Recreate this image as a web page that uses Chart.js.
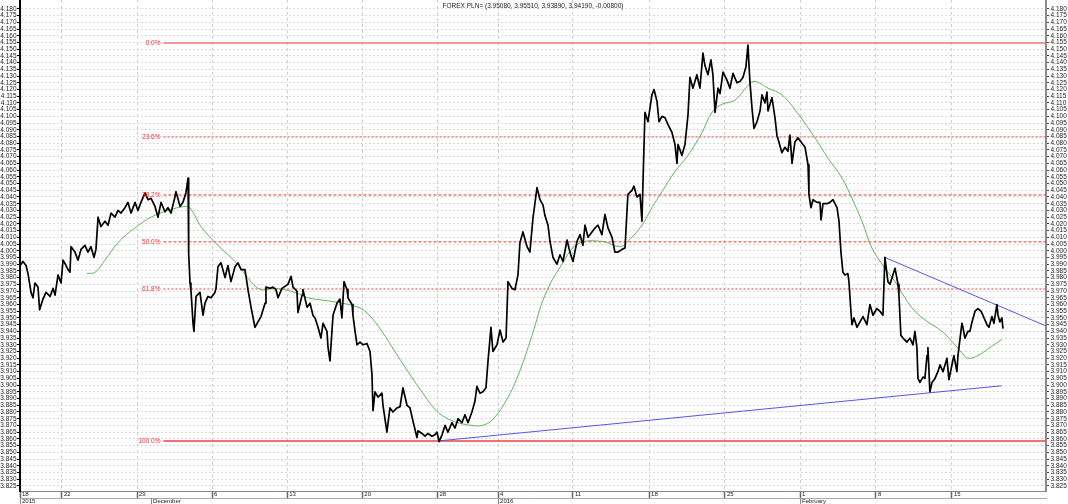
<!DOCTYPE html>
<html>
<head>
<meta charset="utf-8">
<style>
  html, body { margin: 0; padding: 0; background: #fff; }
  #wrap { width: 1068px; height: 504px; }
</style>
<script src="https://cdn.jsdelivr.net/npm/chart.js@4.4.1/dist/chart.umd.min.js"></script>
</head>
<body>
<div id="wrap"><canvas id="chart" width="1068" height="504"></canvas></div>
<script>
const titleText = 'FOREX PLN= (3.95080, 3.95510, 3.93890, 3.94190, -0.00800)';

// x = trading days since 18 Nov 2015, y = USD/PLN
const price = [
  [0, 3.989], [0.2, 3.992], [0.4, 3.989], [0.53, 3.983], [0.73, 3.969], [0.86, 3.965], [0.99, 3.976], [1.19, 3.973],
  [1.3, 3.956], [1.52, 3.964], [1.72, 3.969], [1.99, 3.966], [2.19, 3.972], [2.32, 3.967], [2.52, 3.982], [2.72, 3.976],
  [2.85, 3.993], [3.05, 3.989], [3.18, 3.986], [3.31, 3.984], [3.38, 4.003], [3.64, 3.999], [3.84, 3.993], [4.04, 4.001],
  [4.3, 4.004], [4.5, 3.999], [4.7, 4.003], [4.9, 3.995], [5.03, 4.001], [5.17, 4.025], [5.36, 4.018], [5.63, 4.022],
  [5.83, 4.019], [6.03, 4.028], [6.29, 4.025], [6.49, 4.03], [6.69, 4.028], [6.95, 4.032], [7.15, 4.036], [7.35, 4.028],
  [7.62, 4.036], [7.81, 4.03], [8.01, 4.036], [8.28, 4.043], [8.48, 4.038], [8.68, 4.039], [8.94, 4.033], [9.14, 4.025],
  [9.34, 4.036], [9.6, 4.029], [9.8, 4.032], [10.0, 4.028], [10.26, 4.04], [10.33, 4.044], [10.6, 4.033], [10.79, 4.036],
  [10.99, 4.043], [11.13, 4.054], [11.17, 3.998], [11.26, 3.976], [11.32, 3.971], [11.46, 3.946], [11.52, 3.94], [11.66, 3.966],
  [11.92, 3.969], [12.12, 3.952], [12.25, 3.961], [12.45, 3.966], [12.65, 3.965], [12.91, 3.969], [12.98, 3.972], [13.11, 3.988],
  [13.31, 3.991], [13.58, 3.98], [13.77, 3.989], [13.97, 3.977], [14.24, 3.988], [14.44, 3.991], [14.64, 3.986], [14.9, 3.986],
  [15.1, 3.971], [15.3, 3.958], [15.56, 3.943], [15.76, 3.947], [15.96, 3.951], [16.23, 3.961], [16.29, 3.973], [16.56, 3.972],
  [16.75, 3.973], [16.95, 3.971], [17.09, 3.965], [17.35, 3.972], [17.75, 3.975], [17.95, 3.981], [18.08, 3.973], [18.34, 3.97],
  [18.41, 3.954], [18.68, 3.967], [18.74, 3.971], [19.01, 3.958], [19.21, 3.961], [19.4, 3.952], [19.54, 3.95], [19.74, 3.943],
  [19.93, 3.935], [20.07, 3.946], [20.33, 3.94], [20.4, 3.928], [20.53, 3.918], [20.73, 3.952], [20.99, 3.961], [21.19, 3.964],
  [21.32, 3.95], [21.46, 3.977], [21.66, 3.971], [21.72, 3.965], [21.99, 3.96], [22.05, 3.952], [22.19, 3.94], [22.32, 3.93],
  [22.52, 3.932], [22.72, 3.93], [22.98, 3.931], [23.18, 3.925], [23.31, 3.908], [23.38, 3.881], [23.51, 3.895], [23.71, 3.891],
  [23.97, 3.894], [24.04, 3.885], [24.3, 3.865], [24.5, 3.883], [24.7, 3.88], [24.97, 3.883], [25.17, 3.884], [25.36, 3.898],
  [25.63, 3.885], [25.83, 3.883], [26.03, 3.873], [26.29, 3.861], [26.36, 3.866], [26.62, 3.864], [26.82, 3.862], [27.02, 3.864],
  [27.28, 3.862], [27.48, 3.863], [27.62, 3.865], [27.75, 3.858], [27.95, 3.863], [28.15, 3.87], [28.34, 3.865], [28.61, 3.872],
  [28.81, 3.868], [29.01, 3.875], [29.27, 3.872], [29.47, 3.878], [29.67, 3.872], [29.93, 3.88], [30.13, 3.888], [30.26, 3.899],
  [30.46, 3.894], [30.66, 3.895], [30.86, 3.898], [30.99, 3.917], [31.19, 3.943], [31.32, 3.925], [31.59, 3.93], [31.79, 3.941],
  [31.99, 3.932], [32.19, 3.935], [32.32, 3.977], [32.58, 3.972], [32.78, 3.971], [32.98, 3.982], [33.11, 4.006], [33.31, 4.014],
  [33.58, 4.003], [33.77, 3.999], [33.97, 4.024], [34.24, 4.047], [34.44, 4.038], [34.64, 4.034], [34.77, 4.026], [34.97, 4.019],
  [35.1, 4.007], [35.3, 3.995], [35.56, 3.99], [35.76, 3.997], [35.96, 3.992], [36.23, 4.008], [36.42, 3.999], [36.62, 3.992],
  [36.89, 4.007], [37.09, 4.012], [37.28, 4.004], [37.42, 4.019], [37.62, 4.01], [37.88, 4.014], [38.08, 4.017], [38.28, 4.019],
  [38.54, 4.012], [38.74, 4.027], [38.94, 4.017], [39.21, 4.01], [39.4, 3.999], [39.6, 3.999], [39.87, 4.001], [40.07, 4.002],
  [40.26, 4.042], [40.53, 4.045], [40.66, 4.048], [40.86, 4.04], [41.06, 4.042], [41.19, 4.022], [41.26, 4.051], [41.39, 4.103],
  [41.59, 4.096], [41.85, 4.116], [41.99, 4.12], [42.19, 4.111], [42.32, 4.096], [42.52, 4.1], [42.72, 4.099], [42.91, 4.094],
  [43.18, 4.088], [43.38, 4.079], [43.51, 4.065], [43.58, 4.079], [43.84, 4.071], [44.04, 4.079], [44.24, 4.101], [44.37, 4.129],
  [44.57, 4.121], [44.83, 4.131], [45.03, 4.121], [45.23, 4.147], [45.36, 4.138], [45.56, 4.131], [45.76, 4.142], [45.89, 4.131],
  [46.03, 4.103], [46.23, 4.121], [46.36, 4.117], [46.56, 4.133], [46.82, 4.127], [47.02, 4.121], [47.22, 4.132], [47.48, 4.125],
  [47.68, 4.126], [47.88, 4.129], [48.08, 4.137], [48.21, 4.153], [48.34, 4.126], [48.48, 4.106], [48.61, 4.091], [48.81, 4.096],
  [49.01, 4.104], [49.14, 4.116], [49.34, 4.11], [49.47, 4.118], [49.54, 4.104], [49.8, 4.114], [50.0, 4.099], [50.13, 4.086],
  [50.26, 4.081], [50.46, 4.073], [50.66, 4.077], [50.86, 4.074], [50.99, 4.086], [51.13, 4.065], [51.32, 4.081], [51.52, 4.084],
  [51.79, 4.08], [51.99, 4.077], [52.19, 4.064], [52.25, 4.042], [52.38, 4.032], [52.52, 4.038], [52.78, 4.036], [52.98, 4.036],
  [53.05, 4.023], [53.18, 4.035], [53.44, 4.035], [53.64, 4.036], [53.84, 4.038], [54.11, 4.032], [54.24, 4.022], [54.37, 3.999],
  [54.5, 3.984], [54.64, 3.982], [54.83, 3.983], [54.9, 3.977], [55.03, 3.955], [55.1, 3.945], [55.23, 3.95], [55.43, 3.943],
  [55.63, 3.947], [55.83, 3.951], [56.09, 3.945], [56.29, 3.96], [56.49, 3.952], [56.75, 3.957], [56.95, 3.955], [57.15, 3.952],
  [57.28, 3.995], [57.48, 3.977], [57.62, 3.975], [57.81, 3.982], [57.95, 3.987], [58.15, 3.975], [58.21, 3.967], [58.34, 3.937],
  [58.48, 3.935], [58.74, 3.932], [58.94, 3.935], [59.14, 3.93], [59.27, 3.94], [59.4, 3.928], [59.47, 3.905], [59.6, 3.902],
  [59.8, 3.906], [59.93, 3.905], [60.07, 3.922], [60.13, 3.928], [60.26, 3.895], [60.4, 3.902], [60.6, 3.905], [60.79, 3.91],
  [60.93, 3.915], [61.13, 3.91], [61.39, 3.92], [61.52, 3.904], [61.72, 3.915], [61.85, 3.922], [62.05, 3.91], [62.12, 3.922],
  [62.38, 3.946], [62.45, 3.943], [62.58, 3.935], [62.78, 3.94], [62.91, 3.94], [63.05, 3.947], [63.25, 3.955], [63.44, 3.957],
  [63.64, 3.955], [63.77, 3.952], [64.04, 3.945], [64.17, 3.943], [64.37, 3.951], [64.5, 3.946], [64.7, 3.96], [64.77, 3.952],
  [64.9, 3.947], [65.03, 3.95], [65.1, 3.942]
];

const movingAvg = [
  [4.44, 3.983], [4.97, 3.984], [5.63, 3.993], [6.49, 4.006], [7.62, 4.017], [8.68, 4.025], [9.8, 4.03], [10.93, 4.033],
  [11.26, 4.032], [11.99, 4.018], [13.11, 4.004], [14.24, 3.992], [15.3, 3.977], [15.96, 3.971], [16.89, 3.972], [18.21, 3.969],
  [19.07, 3.965], [20.2, 3.963], [21.32, 3.961], [22.38, 3.958], [23.05, 3.953], [23.97, 3.94], [24.83, 3.925], [25.7, 3.91],
  [26.62, 3.895], [27.48, 3.882], [28.15, 3.876], [29.01, 3.872], [29.93, 3.87], [30.6, 3.87], [31.26, 3.874], [32.12, 3.887],
  [32.98, 3.907], [33.91, 3.937], [34.77, 3.967], [35.89, 3.99], [36.95, 4.005], [38.54, 4.007], [39.74, 4.003], [40.26, 4.007],
  [41.19, 4.019], [41.85, 4.032], [42.52, 4.044], [43.38, 4.059], [44.24, 4.071], [45.17, 4.088], [45.83, 4.103], [46.49, 4.109],
  [47.35, 4.112], [48.21, 4.123], [48.68, 4.126], [49.54, 4.121], [50.46, 4.116], [51.52, 4.102], [52.65, 4.084], [53.51, 4.069],
  [54.44, 4.054], [55.1, 4.039], [55.76, 4.022], [56.42, 4.002], [57.09, 3.99], [57.95, 3.977], [58.61, 3.965], [59.27, 3.955],
  [60.13, 3.947], [61.06, 3.94], [61.92, 3.93], [62.38, 3.924], [62.78, 3.92], [63.44, 3.922], [64.11, 3.927], [65.03, 3.934]
];

const trendLow = [[27.75, 3.8585], [65.0, 3.8995]];
const trendHigh = [[57.28, 3.995], [67.95, 3.944]];

const fibLabels = ['0.0%', '23.6%', '38.2%', '50.0%', '61.8%', '100.0%'];
const fibValues = [4.1546, 4.0847, 4.0415, 4.0066, 3.9716, 3.8585];
const fibStart = 9.5;

const dayTicks = [0, 2.78, 7.75, 12.72, 17.7, 22.67, 27.65, 31.66, 36.62, 41.66, 46.69, 51.66, 56.69, 61.72];
const dayLabels = ['18', '22', '29', '6', '13', '20', '28', '4', '11', '18', '25', '1', '8', '15'];
const periodTicks = [0, 8.68, 31.66, 51.66];
const periodLabels = ['2015', 'December', '2016', 'February'];

const xMin = 0;
const xMax = 67.95;
const yMin = 3.8212;
const yMax = 4.1866;
const yStep = 0.005;
const yTickValues = [];
for (let v = 3.825; v <= 4.1801; v += yStep) yTickValues.push(+v.toFixed(3));

const fibColors = ['rgba(240,90,90,0.6)', 'rgba(240,90,90,0.6)', '#f03030', '#f03030', 'rgba(240,90,90,0.6)', '#f04040'];
const fibWidths = [2, 2, 1, 1, 2, 1.5];
const fibDash = [[], [2, 2], [3, 2], [3, 2], [2, 2], []];

const font = 'Liberation Sans, Arial, sans-serif';
const toPoints = (pairs) => pairs.map(([x, y]) => ({ x, y }));

const datasets = [
  { data: toPoints(price), borderColor: '#000', borderWidth: 1.7 },
  { data: toPoints(movingAvg), borderColor: '#5cb85c', borderWidth: 1, tension: 0.4 },
  { data: toPoints(trendLow), borderColor: '#5555ee', borderWidth: 1 },
  { data: toPoints(trendHigh), borderColor: '#5555ee', borderWidth: 1 }
];
fibValues.forEach((v, i) => {
  datasets.push({
    data: [{ x: fibStart, y: v }, { x: xMax, y: v }],
    borderColor: fibColors[i],
    borderWidth: fibWidths[i],
    borderDash: fibDash[i]
  });
});

const overlay = {
  id: 'overlay',
  beforeDraw(chart) {
    const ctx = chart.ctx;
    ctx.save();
    ctx.fillStyle = '#fff';
    ctx.fillRect(0, 0, chart.width, chart.height);
    ctx.restore();
  },
  afterDraw(chart) {
    const { ctx, chartArea, scales } = chart;
    ctx.save();
    ctx.font = '6.5px ' + font;
    ctx.fillStyle = '#222';
    ctx.textAlign = 'center';
    ctx.textBaseline = 'middle';
    ctx.fillText(titleText, (chartArea.left + chartArea.right) / 2, 6);
    ctx.fillStyle = '#f03030';
    ctx.textAlign = 'right';
    const lx = scales.x.getPixelForValue(fibStart) - 3;
    fibValues.forEach((v, i) => {
      ctx.fillText(fibLabels[i], lx, scales.y.getPixelForValue(v));
    });
    ctx.restore();
  }
};

const setTicks = (values) => (scale) => { scale.ticks = values.map((value) => ({ value })); };
const fitY = (w) => (s) => { s.width = w; s.paddingTop = 0; s.paddingBottom = 0; };
const fitX = (h) => (s) => { s.height = h; s.paddingLeft = 0; s.paddingRight = 0; };

new Chart(document.getElementById('chart'), {
  type: 'line',
  data: { datasets },
  plugins: [overlay],
  options: {
    responsive: false,
    animation: false,
    devicePixelRatio: 1,
    layout: { padding: 0 },
    elements: { point: { radius: 0 }, line: { tension: 0, borderJoinStyle: 'round' } },
    plugins: { legend: { display: false }, tooltip: { enabled: false }, title: { display: false } },
    scales: {
      x: {
        type: 'linear', position: 'bottom', weight: 0, min: xMin, max: xMax, bounds: 'data',
        afterBuildTicks: setTicks(dayTicks),
        afterFit: fitX(7),
        grid: { color: '#d0d0d0', lineWidth: 1, drawTicks: true, tickLength: 7, tickColor: '#666', tickWidth: 1.5, tickBorderDash: [] },
        border: { display: true, color: '#888', width: 1, dash: [3, 3] },
        ticks: {
          autoSkip: false, maxRotation: 0, align: 'start', labelOffset: 2, padding: -7,
          color: '#222', font: { family: font, size: 6 },
          callback: (v, i) => dayLabels[i]
        }
      },
      x2: {
        type: 'linear', position: 'bottom', weight: 1, min: xMin, max: xMax, bounds: 'data',
        afterBuildTicks: setTicks(periodTicks),
        afterFit: fitX(6),
        grid: { drawOnChartArea: false, drawTicks: true, tickLength: 6, tickColor: '#888', tickWidth: 1 },
        border: { display: true, color: '#aaa', width: 1 },
        ticks: {
          autoSkip: false, maxRotation: 0, align: 'start', labelOffset: 2, padding: -6,
          color: '#222', font: { family: font, size: 6 },
          callback: (v, i) => periodLabels[i]
        }
      },
      y: {
        type: 'linear', position: 'left', min: yMin, max: yMax, bounds: 'data',
        afterBuildTicks: setTicks(yTickValues),
        afterFit: fitY(20),
        grid: { color: '#dadada', lineWidth: 1, drawTicks: true, tickLength: 3, tickColor: '#000', tickBorderDash: [] },
        border: { display: true, color: '#000', width: 2, dash: [2, 2] },
        ticks: {
          autoSkip: false, padding: 0.5, color: '#222', font: { family: font, size: 6.5, lineHeight: 1 },
          callback: (v) => v.toFixed(3)
        }
      },
      yR: {
        type: 'linear', position: 'right', min: yMin, max: yMax, bounds: 'data',
        afterBuildTicks: setTicks(yTickValues),
        afterFit: fitY(22),
        grid: { drawOnChartArea: false, drawTicks: true, tickLength: 3, tickColor: '#444' },
        border: { display: true, color: '#8a8a8a', width: 2 },
        ticks: {
          autoSkip: false, padding: 1.5, color: '#222', font: { family: font, size: 6.5, lineHeight: 1 },
          callback: (v) => v.toFixed(3)
        }
      }
    }
  }
});
</script>
</body>
</html>
